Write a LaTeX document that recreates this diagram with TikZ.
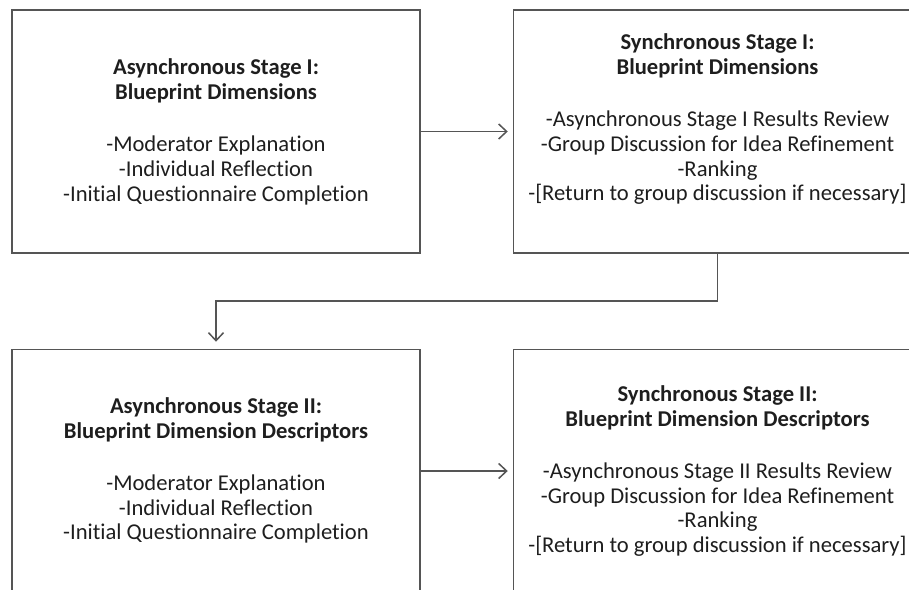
\documentclass[tikz,border=0pt]{standalone}
\usepackage{fontspec}
\setmainfont{Carlito}[Ligatures=NoCommon]
\usepackage{xcolor}
\usetikzlibrary{positioning, arrows.meta}

\definecolor{boxgray}{RGB}{85,85,85}
\definecolor{inkgray}{RGB}{30,30,30}

\tikzset{
  stagebox/.style={draw=boxgray, line width=1.5pt, minimum width=408pt, minimum height=243pt, inner sep=0pt},
  stagetext/.style={align=center, font=\fontsize{22.6}{24.7}\selectfont, text=inkgray, inner sep=0pt},
  flowarrow/.style={draw=boxgray, line width=1.5pt, -{Straight Barb[length=8pt,width=15pt]}, shorten >=5pt}
}

\begin{document}
\begin{tikzpicture}[x=1pt, y=-1pt]
\clip (0,0) rectangle (909,589);

% stage boxes
\node[stagebox] (a1) at (216,131.5) {};
\node[stagebox, right=92pt of a1] (s1) {};
\node[stagebox, below=95pt of a1] (a2) {};
\node[stagebox, right=92pt of a2] (s2) {};

% box texts
\node[stagetext] (a1t) at ([yshift=-0.5pt]a1.center)
  {\textbf{Asynchronous Stage I:}\\\textbf{Blueprint Dimensions}\\[27.5pt]
   -Moderator Explanation\\-Individual Reflection\\-Initial Questionnaire Completion};
\node[stagetext] (s1t) at ([yshift=12pt]s1.center)
  {\textbf{Synchronous Stage I:}\\\textbf{Blueprint Dimensions}\\[27.5pt]
   -Asynchronous Stage I Results Review\\-Group Discussion for Idea Refinement\\-Ranking\\
   -[Return to group discussion if necessary]};
\node[stagetext] (a2t) at ([yshift=0.5pt]a2.center)
  {\textbf{Asynchronous Stage II:}\\\textbf{Blueprint Dimension Descriptors}\\[27.5pt]
   -Moderator Explanation\\-Individual Reflection\\-Initial Questionnaire Completion};
\node[stagetext] (s2t) at ([yshift=0pt]s2.center)
  {\textbf{Synchronous Stage II:}\\\textbf{Blueprint Dimension Descriptors}\\[27.5pt]
   -Asynchronous Stage II Results Review\\-Group Discussion for Idea Refinement\\-Ranking\\
   -[Return to group discussion if necessary]};

% connectors
\draw[flowarrow] (a1.east) -- (s1.west);
\draw[flowarrow, shorten >=7pt] (s1.south) -- ++(0,47) -| (a2.north);
\draw[flowarrow] (a2.east) -- (s2.west);
\end{tikzpicture}
\end{document}
